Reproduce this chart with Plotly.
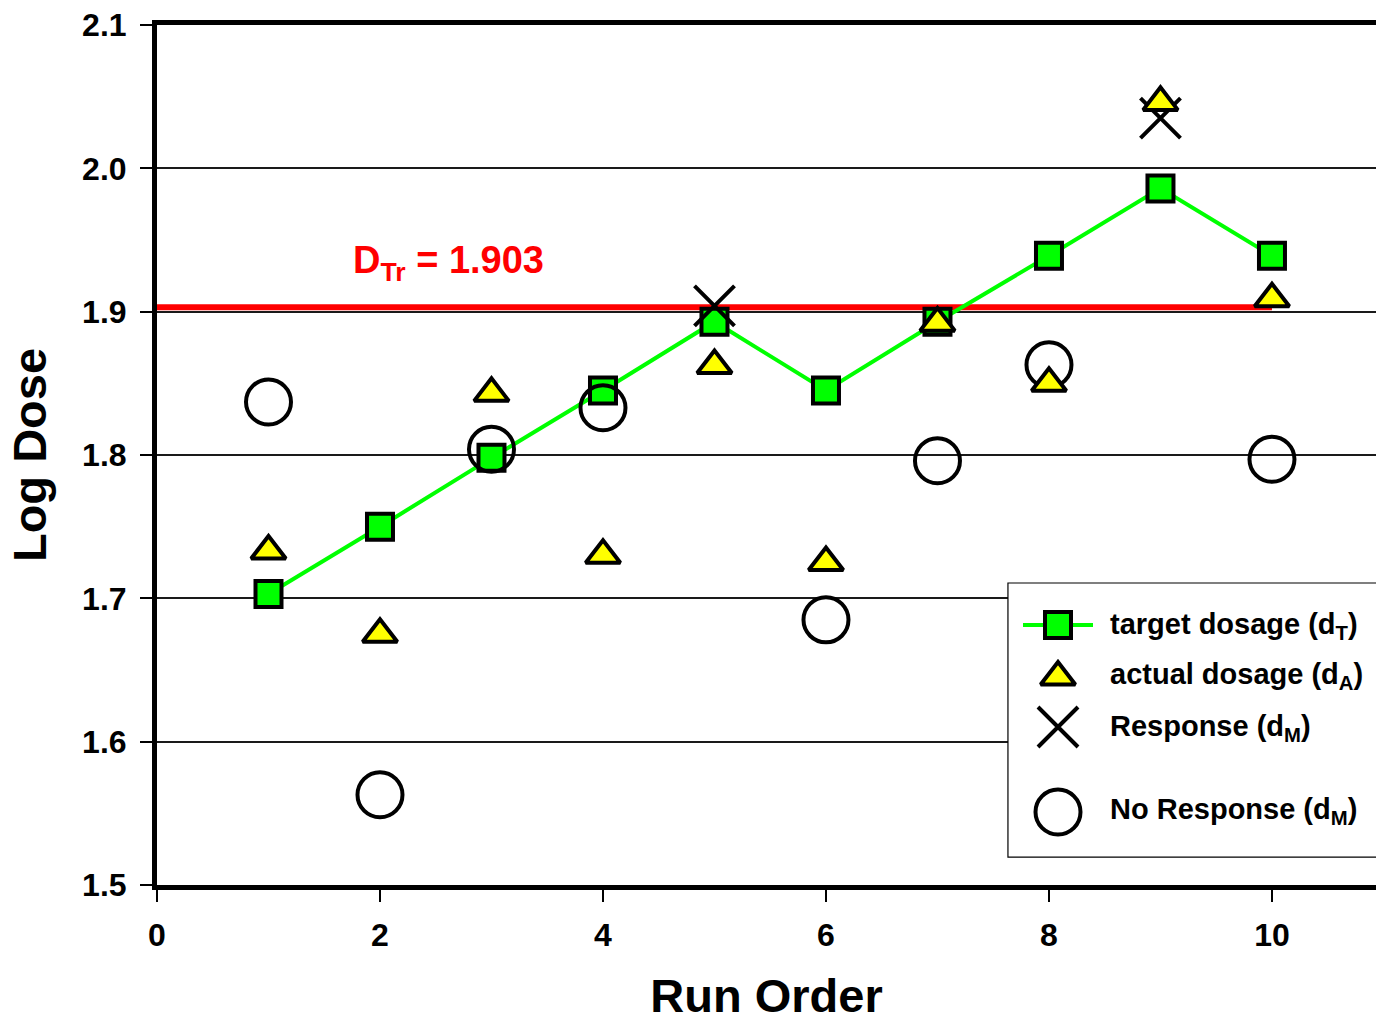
import plotly.graph_objects as go

# ---- data -------------------------------------------------------------
runs = [1, 2, 3, 4, 5, 6, 7, 8, 9, 10]
target_dose = [1.703, 1.750, 1.798, 1.845, 1.893, 1.845, 1.893, 1.939, 1.986, 1.939]
actual_dose = [1.733, 1.675, 1.843, 1.730, 1.8625, 1.725, 1.892, 1.850, 2.046, 1.909]

response_runs = [5, 9]
response_dose = [1.904, 2.035]

no_response_runs = [1, 2, 3, 4, 6, 7, 8, 10]
no_response_dose = [1.837, 1.563, 1.804, 1.833, 1.685, 1.796, 1.863, 1.797]

dtr_value = 1.903
dtr_span = [0, 10]

x_ticks = [0, 2, 4, 6, 8, 10]
y_ticks = [1.5, 1.6, 1.7, 1.8, 1.9, 2.0, 2.1]

legend_labels = [
    "target dosage (d<sub>T</sub>)",
    "actual dosage (d<sub>A</sub>)",
    "Response (d<sub>M</sub>)",
    "No Response (d<sub>M</sub>)",
]

# ---- styles -----------------------------------------------------------
FONT = "Liberation Sans, Arial, sans-serif"
GREEN = "#00FF00"
YELLOW = "#FFFF00"
RED = "#FF0000"
SQ = dict(symbol="square", size=26, color=GREEN, line=dict(color="black", width=4))
TRI = dict(symbol="triangle-up", size=30, color=YELLOW, line=dict(color="black", width=4))
XM = dict(symbol="x-thin-open", size=40, color="black", line=dict(color="black", width=4))
CIRC = dict(symbol="circle-open", size=45, color="black", line=dict(color="black", width=4))

fig = go.Figure()

# threshold line
fig.add_trace(go.Scatter(x=dtr_span, y=[dtr_value] * len(dtr_span), mode="lines",
                         line=dict(color=RED, width=6), showlegend=False, hoverinfo="skip"))
# target dosage path
fig.add_trace(go.Scatter(x=runs, y=target_dose, mode="lines+markers",
                         line=dict(color=GREEN, width=4), marker=SQ, showlegend=False))
# no-response measurements
fig.add_trace(go.Scatter(x=no_response_runs, y=no_response_dose, mode="markers",
                         marker=CIRC, showlegend=False))
# response measurements
fig.add_trace(go.Scatter(x=response_runs, y=response_dose, mode="markers",
                         marker=XM, showlegend=False))
# actual dosage
fig.add_trace(go.Scatter(x=runs, y=actual_dose, mode="markers",
                         marker=TRI, showlegend=False))

# ---- key (drawn in pixel space on an overlay axis pair) ----------------
KEY_X = 1058
KEY_ROWS = [625, 677, 727, 812]
KEY_TEXT_X = 1108
KEY_TEXT_Y = [626, 676, 728, 811]

fig.add_trace(go.Scatter(x=[1023, 1093], y=[KEY_ROWS[0]] * 2, mode="lines",
                         line=dict(color=GREEN, width=4), xaxis="x2", yaxis="y2",
                         showlegend=False, hoverinfo="skip"))
for mk, ry in zip([SQ, TRI, XM, CIRC], KEY_ROWS):
    fig.add_trace(go.Scatter(x=[KEY_X], y=[ry], mode="markers", marker=mk,
                             xaxis="x2", yaxis="y2", showlegend=False, hoverinfo="skip"))
for lab, ty in zip(legend_labels, KEY_TEXT_Y):
    fig.add_annotation(x=KEY_TEXT_X, y=ty, xref="x2", yref="y2", text="<b>" + lab + "</b>",
                       showarrow=False, xanchor="left", yanchor="middle",
                       font=dict(family=FONT, size=29, color="black"))

# key frame (white, hides gridlines behind it)
fig.add_shape(type="rect", xref="x", yref="y", x0=7.632, x1=11.5, y0=1.5195, y1=1.7107,
              fillcolor="white", line=dict(color="black", width=1.2), layer="between")

# threshold label
fig.add_annotation(x=1.74, y=1.934, xref="x", yref="y", xanchor="left", yanchor="middle",
                   text="<b>D<sub>Tr</sub> = %.3f</b>" % dtr_value, showarrow=False,
                   font=dict(family=FONT, size=38, color=RED))

fig.update_layout(
    width=1376, height=1022,
    margin=dict(l=157, r=0, t=25, b=137),
    paper_bgcolor="white", plot_bgcolor="white",
    font=dict(family=FONT, color="black"),
    xaxis=dict(range=[0, 10.933], tickvals=x_ticks, ticks="outside", ticklen=12,
               tickwidth=2, tickcolor="black", showgrid=False, zeroline=False,
               showline=True, linewidth=5, linecolor="black", mirror=True,
               ticklabelstandoff=6,
               tickfont=dict(family=FONT, size=32, weight="bold"),
               title=dict(text="Run Order", standoff=36,
                          font=dict(family=FONT, size=47, weight="bold"))),
    yaxis=dict(range=[1.5, 2.1], tickvals=y_ticks, tickformat=".1f", ticks="outside",
               ticklen=12, tickwidth=2, tickcolor="black", showgrid=True,
               gridcolor="#1a1a1a", gridwidth=1.5, zeroline=False,
               showline=True, linewidth=5, linecolor="black",
               ticklabelstandoff=7,
               tickfont=dict(family=FONT, size=32, weight="bold"),
               title=dict(text="Log Dose", standoff=22,
                          font=dict(family=FONT, size=47, weight="bold"))),
    xaxis2=dict(range=[157, 1376], overlaying="x", anchor="y2", visible=False),
    yaxis2=dict(range=[885, 25], overlaying="y", anchor="x2", visible=False),
)

fig.write_html("out.html")
